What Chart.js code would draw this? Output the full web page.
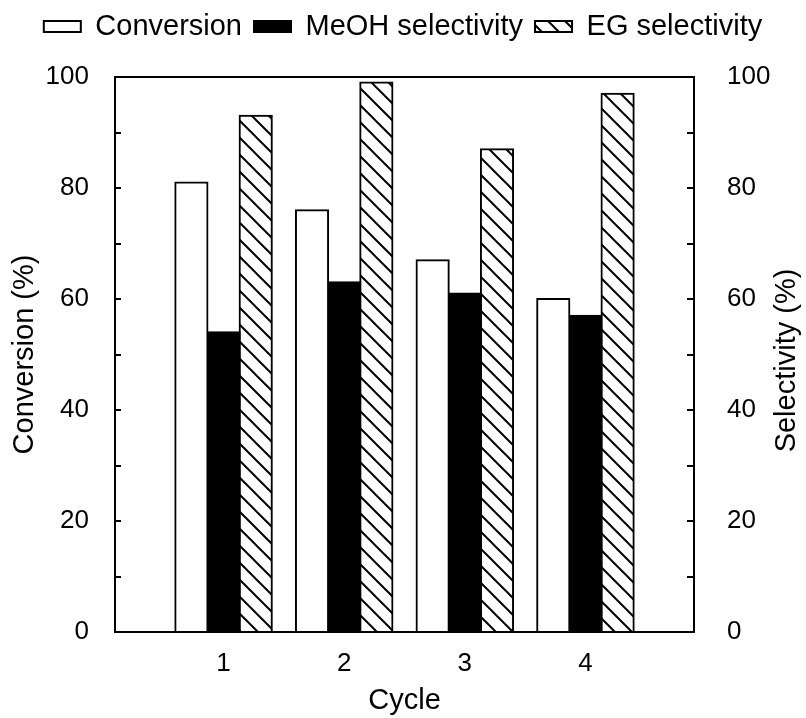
<!DOCTYPE html>
<html>
<head>
<meta charset="utf-8">
<script src="https://cdn.jsdelivr.net/npm/chart.js@4"></script>
<style>
  body { margin: 0; background: #fff; }
</style>
</head>
<body>
<canvas id="cycleChart" width="806" height="718"></canvas>
<script>
const cycles = [1, 2, 3, 4];
const conversion = [81, 76, 67, 60];
const meohSelectivity = [54, 63, 61, 57];
const egSelectivity = [93, 99, 87, 97];

const FONT = "'Liberation Sans', Arial, sans-serif";

// diagonal hatch for EG bars
function makeHatch() {
    const s = 17;
    const c = document.createElement("canvas");
    c.width = s;
    c.height = s;
    const g = c.getContext("2d");
    g.fillStyle = "#fff";
    g.fillRect(0, 0, s, s);
    g.strokeStyle = "#000";
    g.lineWidth = 2;
    g.beginPath();
    g.moveTo(0, 0); g.lineTo(s, s);
    g.moveTo(-2, s - 2); g.lineTo(2, s + 2);
    g.moveTo(s - 2, -2); g.lineTo(s + 2, 2);
    g.stroke();
    return g.createPattern(c, "repeat");
}

function points(values) {
    return cycles.map((c, i) => ({ x: c, y: values[i] }));
}

// legend block takes the full band above the plot
const legendHeight = {
    id: "legendHeight",
    beforeInit(chart) {
        const fit = chart.legend.fit;
        chart.legend.fit = function () {
            fit.call(this);
            this.height = 77;
        };
    }
};

// box frame, inward ticks and right-hand title
const frame = {
    id: "frame",
    afterDatasetsDraw(chart) {
        const { ctx, chartArea: a, scales } = chart;
        ctx.save();
        ctx.strokeStyle = "#000";
        ctx.lineWidth = 2;
        ctx.strokeRect(a.left, a.top, a.right - a.left, a.bottom - a.top);
        ctx.beginPath();
        for (let v = scales.y.min; v <= scales.y.max; v += 10) {
            const py = Math.round(scales.y.getPixelForValue(v));
            ctx.moveTo(a.left, py); ctx.lineTo(a.left + 6, py);
        }
        for (let v = scales.y1.min; v <= scales.y1.max; v += 10) {
            const py = Math.round(scales.y1.getPixelForValue(v));
            ctx.moveTo(a.right, py); ctx.lineTo(a.right - 7, py);
        }
        ctx.stroke();

        ctx.fillStyle = "#000";
        ctx.font = "29px " + FONT;
        ctx.textAlign = "center";
        ctx.textBaseline = "middle";
        ctx.translate(787, (a.top + a.bottom) / 2 + 6);
        ctx.rotate(-Math.PI / 2);
        ctx.fillText("Selectivity (%)", 0, 0);
        ctx.restore();
    }
};

const ctx = document.getElementById("cycleChart").getContext("2d");
new Chart(ctx, {
    type: "bar",
    data: {
        datasets: [
            {
                label: "Conversion",
                data: points(conversion),
                backgroundColor: "#fff",
                borderColor: "#000",
                borderWidth: 2,
                inflateAmount: 1,
                yAxisID: "y"
            },
            {
                label: "MeOH selectivity",
                data: points(meohSelectivity),
                backgroundColor: "#000",
                borderColor: "#000",
                borderWidth: 2,
                inflateAmount: 1,
                yAxisID: "y1"
            },
            {
                label: "EG selectivity",
                data: points(egSelectivity),
                backgroundColor: makeHatch(),
                borderColor: "#000",
                borderWidth: 2,
                inflateAmount: 1,
                yAxisID: "y1"
            }
        ]
    },
    options: {
        responsive: false,
        animation: false,
        categoryPercentage: 0.8,
        barPercentage: 1.0,
        layout: { padding: 0 },
        plugins: {
            legend: {
                position: "top",
                labels: {
                    color: "#000",
                    font: { family: FONT, size: 29 },
                    boxWidth: 37,
                    boxHeight: 11,
                    padding: 12
                }
            },
            tooltip: { enabled: false }
        },
        scales: {
            x: {
                type: "linear",
                min: 0.1,
                max: 4.9,
                offset: false,
                grid: { display: false },
                border: { display: false },
                afterBuildTicks: scale => {
                    scale.ticks = cycles.map(c => ({ value: c }));
                },
                afterFit: scale => { scale.height = 86; },
                ticks: {
                    color: "#000",
                    font: { family: FONT, size: 26 },
                    padding: 8
                },
                title: {
                    display: true,
                    text: "Cycle",
                    color: "#000",
                    font: { family: FONT, size: 29 },
                    padding: { top: 0, bottom: 0 }
                }
            },
            y: {
                position: "left",
                min: 0,
                max: 100,
                grid: { display: false },
                border: { display: false },
                afterFit: scale => { scale.width = 115; },
                ticks: {
                    stepSize: 20,
                    color: "#000",
                    font: { family: FONT, size: 26 },
                    padding: 18
                },
                title: {
                    display: true,
                    text: "Conversion (%)",
                    color: "#000",
                    font: { family: FONT, size: 29 },
                    padding: { top: 8, bottom: 4 }
                }
            },
            y1: {
                position: "right",
                min: 0,
                max: 100,
                grid: { display: false },
                border: { display: false },
                afterFit: scale => { scale.width = 112; },
                ticks: {
                    stepSize: 20,
                    color: "#000",
                    font: { family: FONT, size: 26 },
                    padding: 25
                }
            }
        }
    },
    plugins: [legendHeight, frame]
});
</script>
</body>
</html>
